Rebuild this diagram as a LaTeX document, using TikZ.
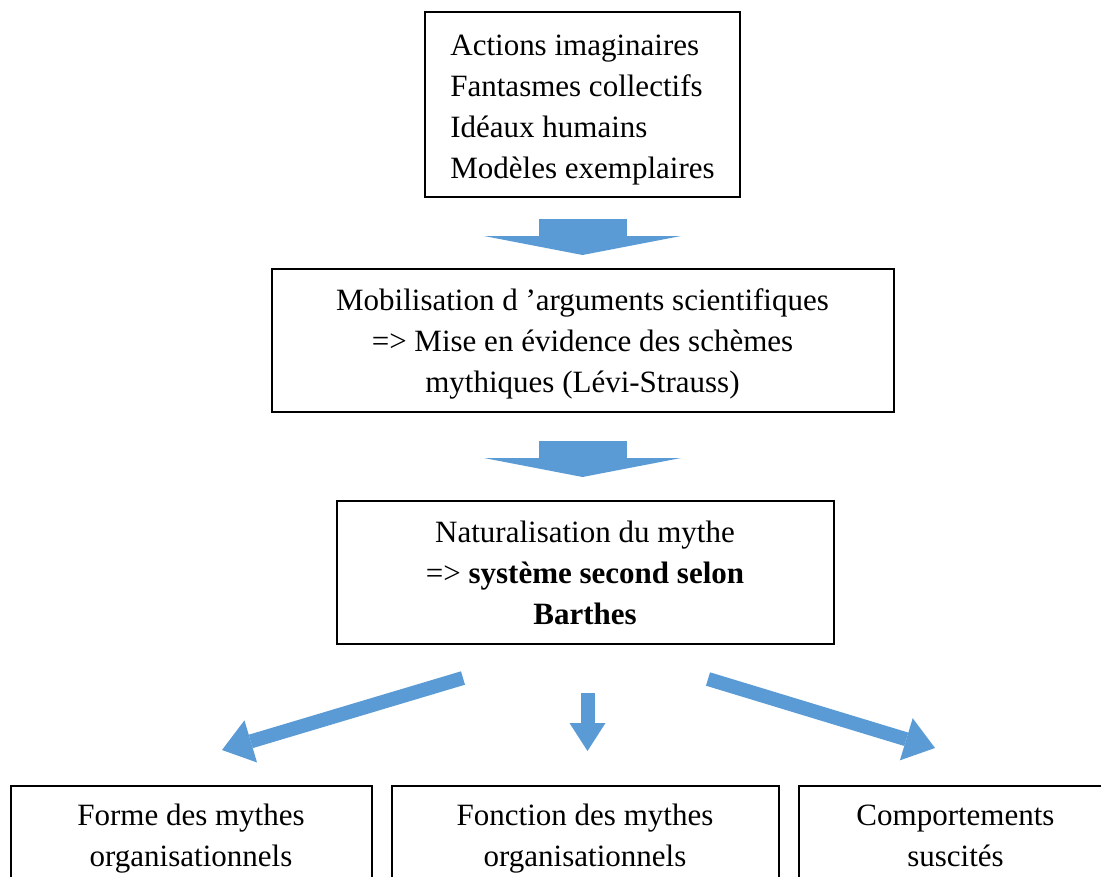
\documentclass[tikz,border=0pt]{standalone}
\usepackage{fontspec}
\setmainfont{Liberation Serif}
\usetikzlibrary{arrows.meta,positioning}
\definecolor{arrowblue}{HTML}{5B9BD5}
\tikzset{
    box/.style={rectangle, draw=black, line width=2pt, fill=white,
        inner sep=6pt, align=center, font=\fontsize{31}{41}\selectfont},
    bigarrow/.style={arrowblue, line width=88pt,
        -{Triangle[length=19pt,width=197pt,line width=0pt]}},
    arrow/.style={arrowblue, line width=14pt,
        -{Triangle[length=30pt,width=44pt,line width=0pt]}}
}

\begin{document}
\begin{tikzpicture}[x=1pt,y=1pt]
    \clip (0,0) rectangle (1101,-876);
    \node[box, align=left, minimum width=315pt, minimum height=185pt] (act) at (582.5,-104.5)
        {\rule{0pt}{31pt}Actions imaginaires\\Fantasmes collectifs\\Idéaux humains\\Modèles exemplaires};
    \node[box, minimum width=622pt, minimum height=143pt, below=70pt of act] (mob)
        {\rule{0pt}{28pt}Mobilisation d ’arguments scientifiques\\=> Mise en évidence des schèmes\\mythiques (Lévi-Strauss)};
    \node[box, minimum width=497pt, minimum height=143pt, below=87pt of mob, xshift=2.5pt] (nat)
        {Naturalisation du mythe\\=> \textbf{système second selon}\\\textbf{Barthes}};
    \node[box, minimum width=387pt, minimum height=104pt, below=140pt of nat] (fonction)
        {Fonction des mythes\strut\\organisationnels\strut};
    \node[box, minimum width=361pt, minimum height=104pt, left=18pt of fonction] (forme)
        {Forme des mythes\strut\\organisationnels\strut};
    \node[box, minimum width=314pt, minimum height=104pt, right=18pt of fonction] (comport)
        {Comportements\strut\\suscités\strut};
    \coordinate (lstart) at (463,-678);
    \coordinate (lend) at (222,-750);
    \coordinate (rstart) at (708,-679);
    \coordinate (rend) at (935,-748);
    \draw[bigarrow, shorten <=21pt, shorten >=13pt] (act.south) -- (mob.north);
    \draw[bigarrow, shorten <=28pt, shorten >=23pt] (mob.south -| act.south) -- (nat.north -| act.south);
    \draw[arrow] (lstart) -- (lend);
    \draw[arrow, -{Triangle[length=28pt,width=36pt,line width=0pt]}, shorten <=48pt, shorten >=34pt]
        ([xshift=2.5pt]nat.south) -- ([xshift=2.5pt]nat.south |- fonction.north);
    \draw[arrow] (rstart) -- (rend);
\end{tikzpicture}
\end{document}
